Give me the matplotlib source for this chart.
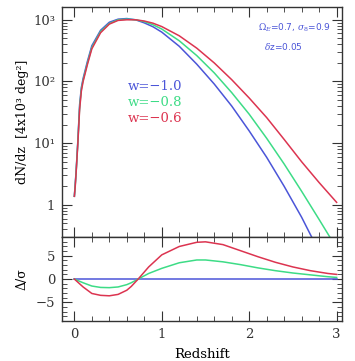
import numpy as np
import matplotlib
matplotlib.use("Agg")
import matplotlib.pyplot as plt
from matplotlib.ticker import FixedLocator, MultipleLocator, NullFormatter

plt.rcParams['font.family'] = ['DejaVu Serif']
plt.rcParams['mathtext.fontset'] = 'dejavuserif'

# upper panel: dN/dz
z_blue = [0.0, 0.01, 0.02, 0.04, 0.06, 0.08, 0.1, 0.15, 0.2, 0.3, 0.4, 0.5, 0.6, 0.7, 0.8,
          0.9, 1.0, 1.2, 1.4, 1.6, 1.8, 2.0, 2.2, 2.4, 2.6, 2.75]
n_blue = [1.38, 2.2, 3.5, 11, 42, 80, 112, 214, 380, 676, 912, 1023, 1047, 1000, 891,
          770, 631, 372, 191, 91, 40, 15.8, 5.9, 2.0, 0.63, 0.24]
z_green = [0.0, 0.01, 0.02, 0.04, 0.06, 0.08, 0.1, 0.15, 0.2, 0.3, 0.4, 0.5, 0.6, 0.7, 0.8,
           0.9, 1.0, 1.2, 1.4, 1.6, 1.8, 2.0, 2.2, 2.4, 2.6, 2.8, 2.95]
n_green = [1.38, 2.1, 3.4, 10.5, 38, 75, 105, 200, 355, 646, 871, 1000, 1023, 1000, 933,
           830, 708, 457, 263, 138, 66, 29.5, 12.0, 4.6, 1.66, 0.58, 0.26]
z_red = [0.0, 0.01, 0.02, 0.04, 0.06, 0.08, 0.1, 0.15, 0.2, 0.3, 0.4, 0.5, 0.6, 0.7, 0.8,
         0.9, 1.0, 1.2, 1.4, 1.6, 1.8, 2.0, 2.2, 2.4, 2.6, 2.8, 3.0]
n_red = [1.38, 2.0, 3.3, 10, 35, 70, 100, 190, 339, 617, 851, 977, 1000, 1000, 955,
         880, 776, 550, 347, 200, 107, 54, 26, 11.5, 5.0, 2.3, 1.1]

# lower panel: Delta/sigma
z_low = [0.0, 0.1, 0.2, 0.3, 0.4, 0.5, 0.6, 0.65, 0.73, 0.85, 1.0, 1.2, 1.4,
         1.5, 1.7, 1.9, 2.1, 2.3, 2.5, 2.7, 2.9, 3.0]
d_blue = [0.0] * len(z_low)
d_green = [0.0, -0.8, -1.5, -1.8, -1.85, -1.7, -1.2, -0.8, 0.0, 1.2, 2.3, 3.5, 4.1,
           4.1, 3.7, 3.1, 2.4, 1.8, 1.3, 0.9, 0.5, 0.35]
d_red = [0.0, -1.7, -3.1, -3.5, -3.6, -3.3, -2.4, -1.6, 0.0, 2.6, 5.2, 7.0, 7.9,
         8.0, 7.4, 6.1, 4.8, 3.6, 2.6, 1.8, 1.2, 1.0]

labels = ["w=\u22121.0", "w=\u22120.8", "w=\u22120.6"]
blue, green, red = "#4b55d8", "#3ddc86", "#dc3450"

fig = plt.figure(figsize=(3.55, 3.61), dpi=100)
ax1 = fig.add_axes([0.175, 0.343, 0.788, 0.638])
ax2 = fig.add_axes([0.175, 0.111, 0.788, 0.232], sharex=ax1)

for z, n, c in [(z_blue, n_blue, blue), (z_green, n_green, green), (z_red, n_red, red)]:
    ax1.plot(z, n, color=c, lw=1.1)
ax1.set_yscale('log')
ax1.set_ylim(0.3, 1620)
ax1.set_xlim(-0.14, 3.06)
ax1.yaxis.set_major_locator(FixedLocator([1, 10, 100, 1000]))
ax1.set_yticklabels(["1", "10\u00b9", "10\u00b2", "10\u00b3"])
ax1.set_ylabel("dN/dz  [4x10\u00b3 deg\u00b2]", fontsize=9)
ax1.tick_params(labelbottom=False)

for lab, c, y in zip(labels, [blue, green, red], [0.64, 0.57, 0.50]):
    ax1.text(0.235, y, lab, color=c, fontsize=9.5, transform=ax1.transAxes)
ax1.text(0.83, 0.91, r"$\Omega_E$=0.7, $\sigma_8$=0.9", color=blue, fontsize=6.5,
         ha='center', va='center', transform=ax1.transAxes, family='DejaVu Sans')
ax1.text(0.79, 0.83, r"$\delta$z=0.05", color=blue, fontsize=6.5,
         ha='center', va='center', transform=ax1.transAxes, family='DejaVu Sans')

ax2.plot(z_low, d_blue, color=blue, lw=1.1)
ax2.plot(z_low, d_green, color=green, lw=1.1)
ax2.plot(z_low, d_red, color=red, lw=1.1)
ax2.set_ylim(-9, 9)
ax2.yaxis.set_major_locator(FixedLocator([-5, 0, 5]))
ax2.yaxis.set_minor_locator(MultipleLocator(1))
ax2.set_yticklabels(["\u22125", "0", "5"])
ax2.set_ylabel("\u0394/\u03c3", fontsize=9)
ax2.set_xlabel("Redshift", fontsize=9.5, labelpad=5)
ax2.xaxis.set_major_locator(FixedLocator([0, 1, 2, 3]))
ax2.xaxis.set_minor_locator(MultipleLocator(0.2))

for ax in (ax1, ax2):
    ax.tick_params(which='both', direction='in', top=True, right=True, labelsize=9.5,
                   color='#333333', labelcolor='#333333')
    ax.tick_params(which='major', length=7, width=0.8, pad=5)
    ax.tick_params(which='minor', length=3.5, width=0.6)
    for s in ax.spines.values():
        s.set_linewidth(1.0)
        s.set_color('#333333')
ax1.yaxis.set_minor_formatter(NullFormatter())
ax1.xaxis.set_minor_locator(MultipleLocator(0.2))
ax1.xaxis.set_major_locator(FixedLocator([0, 1, 2, 3]))
ax1.yaxis.set_label_coords(-0.12, 0.5)
ax2.yaxis.set_label_coords(-0.12, 0.5)

fig.savefig("out.png", dpi=100)
